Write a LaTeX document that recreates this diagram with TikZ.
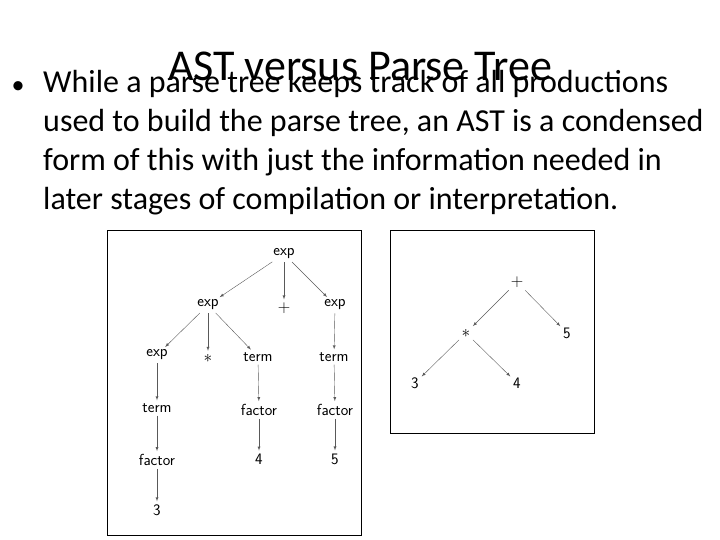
\documentclass[tikz,border=0pt]{standalone}
\usepackage{fontspec}
\setmainfont{Carlito}
\usepackage{tikz}

\tikzset{
  tn/.style={font=\sffamily\fontsize{16}{16}\selectfont, inner sep=2pt},
  edge/.style={-latex, thin, gray!70!black, shorten <=1pt, shorten >=1pt},
  frame/.style={draw, thick}
}

\begin{document}
\begin{tikzpicture}[x=1pt,y=-1pt]

        \useasboundingbox (0,0) rectangle (720,540);

        \node (title) at (360,66) {\fontsize{44}{44}\selectfont AST versus Parse Tree};

        \node[anchor=west] (bul) at (8,88) {\fontsize{26}{26}\selectfont\textbullet};
        \node[anchor=north west, align=left, inner sep=0pt,
              font=\fontsize{32}{39}\selectfont] (body) at (43,70)
          {While a parse tree keeps track of all productions\\
           used to build the parse tree, an AST is a condensed\\
           form of this with just the information needed in\\
           later stages of compilation or interpretation.};

        % parse tree
        \draw[frame] (107,230) rectangle (361,535);
        \node[tn] (e0) at (284,254) {exp};
        \node[tn] (e1) at (208,305) {exp};
        \node[tn] (pl) at (284,308) {$+$};
        \node[tn] (e2) at (335,305) {exp};
        \node[tn] (e3) at (157,355) {exp};
        \node[tn] (st) at (208,358) {$*$};
        \node[tn] (t1) at (258,357) {term};
        \node[tn] (t2) at (334,357) {term};
        \node[tn] (t3) at (157,408) {term};
        \node[tn] (f1) at (259,410) {factor};
        \node[tn] (f2) at (335,410) {factor};
        \node[tn] (f3) at (157,460) {factor};
        \node[tn] (n4) at (259,459) {4};
        \node[tn] (n5) at (335,459) {5};
        \node[tn] (n3) at (157,510) {3};

        \foreach \a/\b in {e0/e1,e0/pl,e0/e2,e1/e3,e1/st,e1/t1,e2/t2,e3/t3,t1/f1,t2/f2,t3/f3,f1/n4,f2/n5,f3/n3}
          \draw[edge] (\a) -- (\b);

        % AST
        \draw[frame] (390,230) rectangle (594,433);
        \node[tn] (ap) at (517,282) {$+$};
        \node[tn] (am) at (466,333) {$*$};
        \node[tn] (a5) at (567,333) {5};
        \node[tn] (a3) at (415,383) {3};
        \node[tn] (a4) at (517,383) {4};

        \foreach \a/\b in {ap/am,ap/a5,am/a3,am/a4}
          \draw[edge] (\a) -- (\b);

\end{tikzpicture}
\end{document}
